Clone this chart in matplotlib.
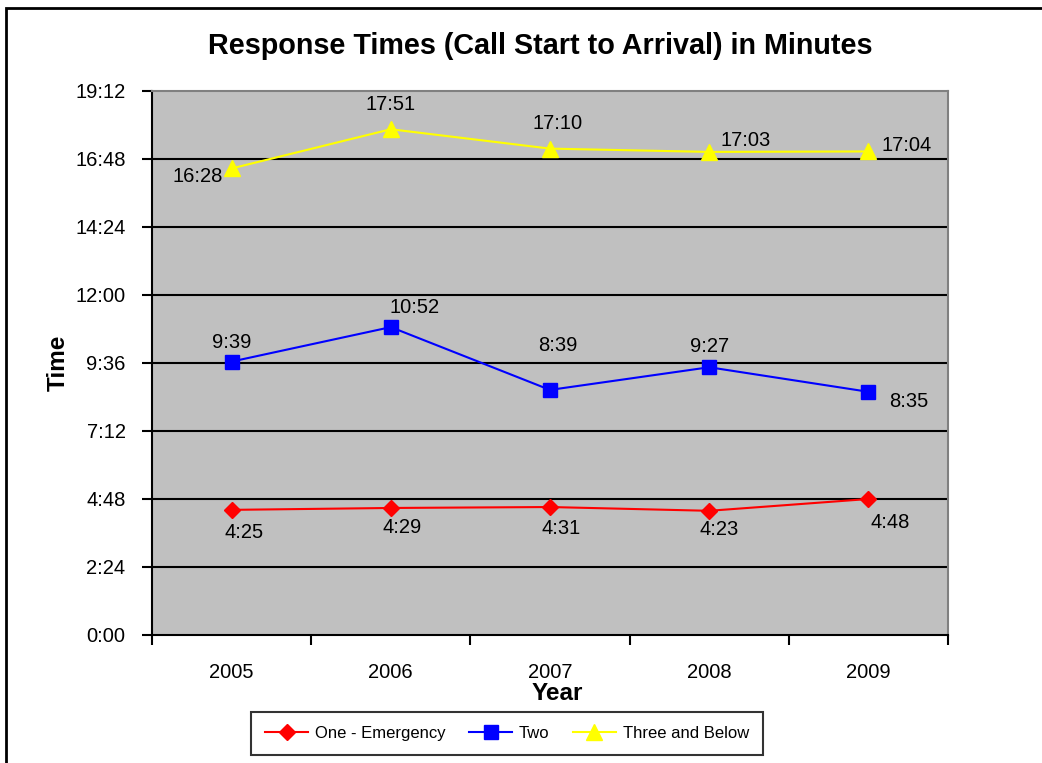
import matplotlib.pyplot as plt
import matplotlib.patches as patches
from matplotlib.ticker import FuncFormatter, MultipleLocator

plt.rcParams['font.family'] = ['Liberation Sans', 'DejaVu Sans']

years = ['2005', '2006', '2007', '2008', '2009']
# response times in seconds (m:ss)
one_emergency = [265, 269, 271, 263, 288]
two = [579, 652, 519, 567, 515]
three_below = [988, 1071, 1030, 1023, 1024]

# label offsets in pixels (dx right, dy down) from each point
off_one = [(12, 23), (11, 20), (11, 21), (10, 19), (22, 24)]
off_two = [(0, -19), (24, -20), (8, -44), (0, -21), (40, 10)]
off_three = [(-34, 8), (0, -25), (8, -25), (36, -11), (38, -6)]


def mmss(v, pos=None):
    v = int(round(v))
    return '%d:%02d' % (v // 60, v % 60)


W, H = 1042, 763
fig = plt.figure(figsize=(W / 100, H / 100), dpi=100)

# chart border (right/bottom edges run off the picture)
fig.patches.append(patches.Rectangle((6 / W, -0.1), 1.2, 1.1 - 8 / H,
                                     transform=fig.transFigure, fill=False,
                                     edgecolor='black', linewidth=2, zorder=0))

ax = fig.add_axes([152 / W, (H - 635) / H, (948 - 152) / W, (635 - 91) / H])
ax.set_facecolor('#C0C0C0')

x = list(range(len(years)))
series = [
    (one_emergency, 'One - Emergency', '#FF0000', 'D', 8, off_one),
    (two, 'Two', '#0000FF', 's', 10.5, off_two),
    (three_below, 'Three and Below', '#FFFF00', '^', 11, off_three),
]
for vals, name, col, mk, ms, offs in series:
    ax.plot(x, vals, color=col, marker=mk, markersize=ms, linewidth=1.5,
            label=name, zorder=3, clip_on=False)
    for xi, v, (dx, dy) in zip(x, vals, offs):
        ax.annotate(mmss(v), (xi, v), xytext=(dx * 0.72, -dy * 0.72),
                    textcoords='offset points', ha='center', va='center',
                    fontsize=14.5, color='black', zorder=4)

ax.set_ylim(0, 1152)
ax.yaxis.set_major_locator(MultipleLocator(144))
ax.yaxis.set_major_formatter(FuncFormatter(mmss))
ax.set_xlim(-0.5, len(years) - 0.5)
ax.set_xticks([i - 0.5 for i in range(len(years) + 1)])
ax.set_xticklabels([])
ax.set_xticks(x, minor=True)
ax.set_xticklabels(years, minor=True)
ax.tick_params(axis='x', which='minor', length=0, pad=20, labelsize=14.5)
ax.tick_params(axis='x', which='major', direction='out', length=7, width=1.5)
ax.tick_params(axis='y', direction='out', length=7, width=1.5, pad=12, labelsize=14.5)

for t in range(144, 1152, 144):
    ax.axhline(t, color='black', linewidth=1.5, zorder=1)

ax.spines['left'].set_color('black')
ax.spines['left'].set_linewidth(1.5)
ax.spines['bottom'].set_color('black')
ax.spines['bottom'].set_linewidth(1.5)
ax.spines['top'].set_color('#808080')
ax.spines['right'].set_color('#808080')
ax.spines['top'].set_linewidth(1.5)
ax.spines['right'].set_linewidth(1.5)

ax.set_ylabel('Time', fontsize=17.5, fontweight='bold', labelpad=4)
ax.set_xlabel('Year', fontsize=17.5, fontweight='bold', labelpad=0)
ax.xaxis.label.set_x((557.5 - 152) / (948 - 152))
fig.text(540 / W, 1 - 46 / H, 'Response Times (Call Start to Arrival) in Minutes',
         ha='center', va='center', fontsize=20.7, fontweight='bold')

leg = fig.legend(loc='center', bbox_to_anchor=(507 / W, 1 - 733.5 / H), ncol=3,
                 fontsize=12, frameon=True, fancybox=False, edgecolor='black',
                 handlelength=2.6, columnspacing=1.4, handletextpad=0.4,
                 borderpad=0.85)
leg.get_frame().set_linewidth(1.5)

fig.savefig('out.png', dpi=100)
